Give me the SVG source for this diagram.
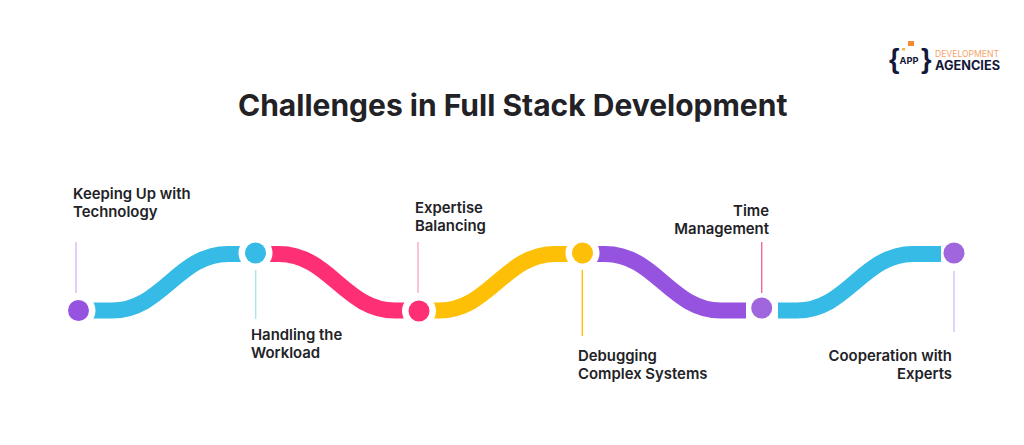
<svg xmlns="http://www.w3.org/2000/svg" width="1024" height="445" viewBox="0 0 1024 445">
  <style>
    text { font-family: Inter, "Liberation Sans", sans-serif; fill: #222226; }
    .title { font-size: 30px; font-weight: 700; }
    .label { font-size: 14.900px; font-weight: 600; }
    .end { text-anchor: end; }
    .band { fill: none; stroke-width: 16; }
    .tick { stroke-width: 1.400; fill: none; }
    .ring { fill: #ffffff; }
    .brace { font-family: "Liberation Sans", sans-serif; font-size: 27px; font-weight: 700; fill: #14183a; }
    .mark { font-size: 9.300px; font-weight: 700; fill: #14183a; }
  </style>
  <rect width="1024" height="445" fill="#ffffff"/>

  <g id="logo">
    <text><tspan class="brace" x="889" y="68">{</tspan><tspan class="mark" x="899.500" y="63.500">APP</tspan><tspan class="brace" x="921" y="68">}</tspan></text>
    <rect x="908" y="41" width="6" height="5" fill="#f58a2e"/>
    <rect x="902" y="48" width="3" height="2.500" fill="#f7b24a"/>
    <text x="935" y="57" textLength="64" lengthAdjust="spacingAndGlyphs" style="font-size:8.500px;font-weight:400;fill:#f3a469">DEVELOPMENT</text>
    <text x="935" y="70" textLength="65" lengthAdjust="spacingAndGlyphs" style="font-size:12.500px;font-weight:700;fill:#14183a">AGENCIES</text>
  </g>

  <text class="title" x="238" y="116">Challenges in Full Stack Development</text>

  <g id="connectors">
    <path class="band" stroke="#35bbe6" d="M85 310.500H112C162 310.500 178 254 228 254H250"/>
    <path class="band" stroke="#ff2f75" d="M262 254H279C329 254 345 310.500 395 310.500H413"/>
    <path class="band" stroke="#fec007" d="M426 310.500H439C489 310.500 505 254 555 254H576"/>
    <path class="band" stroke="#9653e0" d="M590 254H605C655 254 671 310.500 721 310.500H746"/>
    <path class="band" stroke="#35bbe6" d="M778 310.500H797C847 310.500 863 254 913 254H941"/>
    <path class="tick" stroke="#d8b8f5" d="M76 242V293"/>
    <path class="tick" stroke="#aee2f5" d="M255.700 268V319"/>
    <path class="tick" stroke="#fba9c6" d="M418 242V293"/>
    <path class="tick" stroke="#fec007" d="M582.300 270V336"/>
    <path class="tick" stroke="#f06a92" d="M761.700 242V293"/>
    <path class="tick" stroke="#d9bdfb" d="M954 271V332"/>
  </g>

  <g id="node-1">
    <circle class="ring" cx="78.500" cy="310.500" r="17"/>
    <circle cx="78.500" cy="310.500" r="10.500" fill="#9653e0"/>
    <text class="label" x="73" y="199">Keeping Up with</text>
    <text class="label" x="73" y="217">Technology</text>
  </g>
  <g id="node-2">
    <circle class="ring" cx="255.500" cy="253" r="17"/>
    <circle cx="255.500" cy="253" r="10.500" fill="#35bbe6"/>
    <text class="label" x="251" y="340">Handling the</text>
    <text class="label" x="251" y="358">Workload</text>
  </g>
  <g id="node-3">
    <circle class="ring" cx="419" cy="311" r="17"/>
    <circle cx="419" cy="311" r="10.500" fill="#ff2f75"/>
    <text class="label" x="415" y="213">Expertise</text>
    <text class="label" x="415" y="231">Balancing</text>
  </g>
  <g id="node-4">
    <circle class="ring" cx="582.500" cy="253" r="17"/>
    <circle cx="582.500" cy="253" r="10.500" fill="#fec007"/>
    <text class="label" x="578" y="361">Debugging</text>
    <text class="label" x="578" y="379">Complex Systems</text>
  </g>
  <g id="node-5">
    <circle cx="761.700" cy="308" r="10.500" fill="#a066de"/>
    <text class="label end" x="769" y="216">Time</text>
    <text class="label end" x="769" y="234">Management</text>
  </g>
  <g id="node-6">
    <circle cx="954" cy="253" r="10.500" fill="#a066de"/>
    <text class="label end" x="952" y="361">Cooperation with</text>
    <text class="label end" x="952" y="379">Experts</text>
  </g>
</svg>
